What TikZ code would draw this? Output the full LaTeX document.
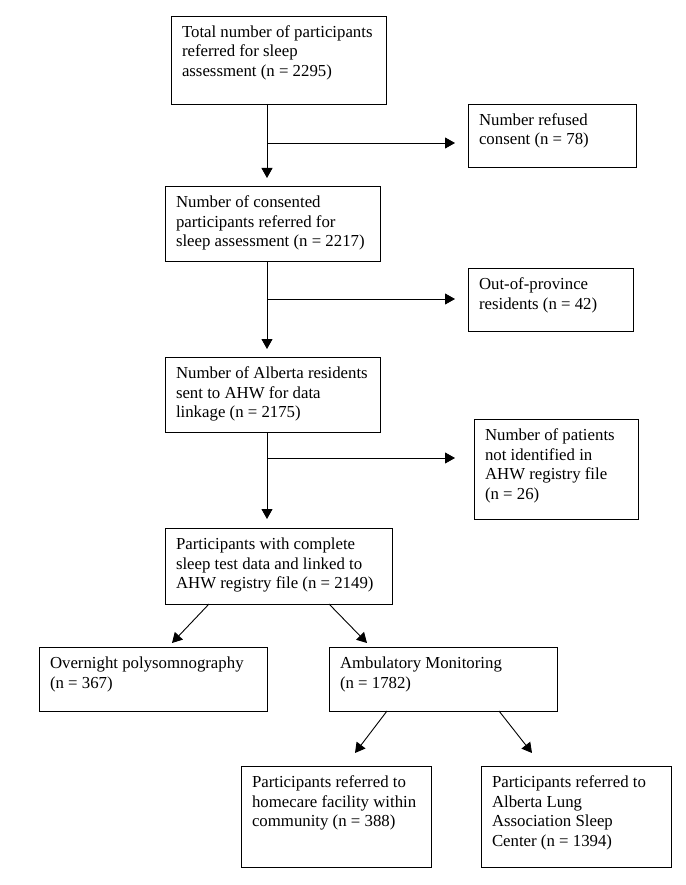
\documentclass[tikz,border=0pt]{standalone}
\usepackage{fontspec}
\setmainfont{Liberation Serif}
\usetikzlibrary{arrows.meta,calc}
\newcommand\bxtext[3]{\begin{minipage}[c][#2][t]{#1}\raggedright\rule{0pt}{21.5pt}#3\end{minipage}}
\tikzset{
  flowbox/.style={draw, line width=0.9pt, inner xsep=11pt, inner ysep=0pt, outer sep=0pt, anchor=north west,
    font=\fontsize{16.8}{19.5}\selectfont},
  arr/.style={line width=0.9pt, -{Triangle[length=10pt,width=11pt]}}
}
\newcommand\fb[6]{\node[flowbox] (#1) at (#2,#3) {\bxtext{\dimexpr#4pt-22pt\relax}{#5pt}{#6}};}
\begin{document}
\begin{tikzpicture}[x=1pt,y=-1pt]
\useasboundingbox[fill=white] (0,0) rectangle (685,885);
\fb{b1}{171}{16}{215}{88}{\mbox{Total number of participants}\\\mbox{referred for sleep}\\\mbox{assessment (n = 2295)}}
\fb{r1}{468}{104}{168}{63}{\mbox{Number refused}\\\mbox{consent (n = 78)}}
\fb{b2}{165}{186}{215}{75}{\mbox{Number of consented}\\\mbox{participants referred for}\\\mbox{sleep assessment (n = 2217)}}
\fb{r2}{468}{268}{165}{63}{\mbox{Out-of-province}\\\mbox{residents (n = 42)}}
\fb{b3}{165}{357}{215}{75}{\mbox{Number of Alberta residents}\\\mbox{sent to AHW for data}\\\mbox{linkage (n = 2175)}}
\fb{r3}{474}{419}{164}{100}{\mbox{Number of patients}\\\mbox{not identified in}\\\mbox{AHW registry file}\\\mbox{(n = 26)}}
\fb{b4}{165}{528}{227}{76}{\mbox{Participants with complete}\\\mbox{sleep test data and linked to}\\\mbox{AHW registry file (n = 2149)}}
\fb{o}{39}{647}{228}{64}{\mbox{Overnight polysomnography}\\\mbox{(n = 367)}}
\fb{a}{329}{647}{228}{64}{\mbox{Ambulatory Monitoring}\\\mbox{(n = 1782)}}
\fb{h}{241}{766}{190}{101}{\mbox{Participants referred to}\\\mbox{homecare facility within}\\\mbox{community (n = 388)}}
\fb{l}{481}{766}{190}{101}{\mbox{Participants referred to}\\\mbox{Alberta Lung}\\\mbox{Association Sleep}\\\mbox{Center (n = 1394)}}
% junctions
\coordinate (j1) at (267,143);
\coordinate (j2) at (267,299);
\coordinate (j3) at (267,458);
\draw[arr, shorten >=8pt] (b1.south -| j1) -- (b2.north -| j1);
\draw[arr, shorten >=13pt] (j1) -- (r1.west |- j1);
\draw[arr, shorten >=8pt] (b2.south -| j2) -- (b3.north -| j2);
\draw[arr, shorten >=13pt] (j2) -- (r2.west |- j2);
\draw[arr, shorten >=9pt] (b3.south -| j3) -- (b4.north -| j3);
\draw[arr, shorten >=19pt] (j3) -- (r3.west |- j3);
\draw[arr] ($(b4.south west)+(44,0)$) -- ($(o.north west)+(133,-4)$);
\draw[arr] ($(b4.south west)+(164,0)$) -- ($(a.north west)+(38,-4)$);
\draw[arr] ($(a.south west)+(58,0)$) -- ($(h.north west)+(114,-13)$);
\draw[arr] ($(a.south west)+(170,0)$) -- ($(l.north west)+(51,-13)$);
\end{tikzpicture}
\end{document}
